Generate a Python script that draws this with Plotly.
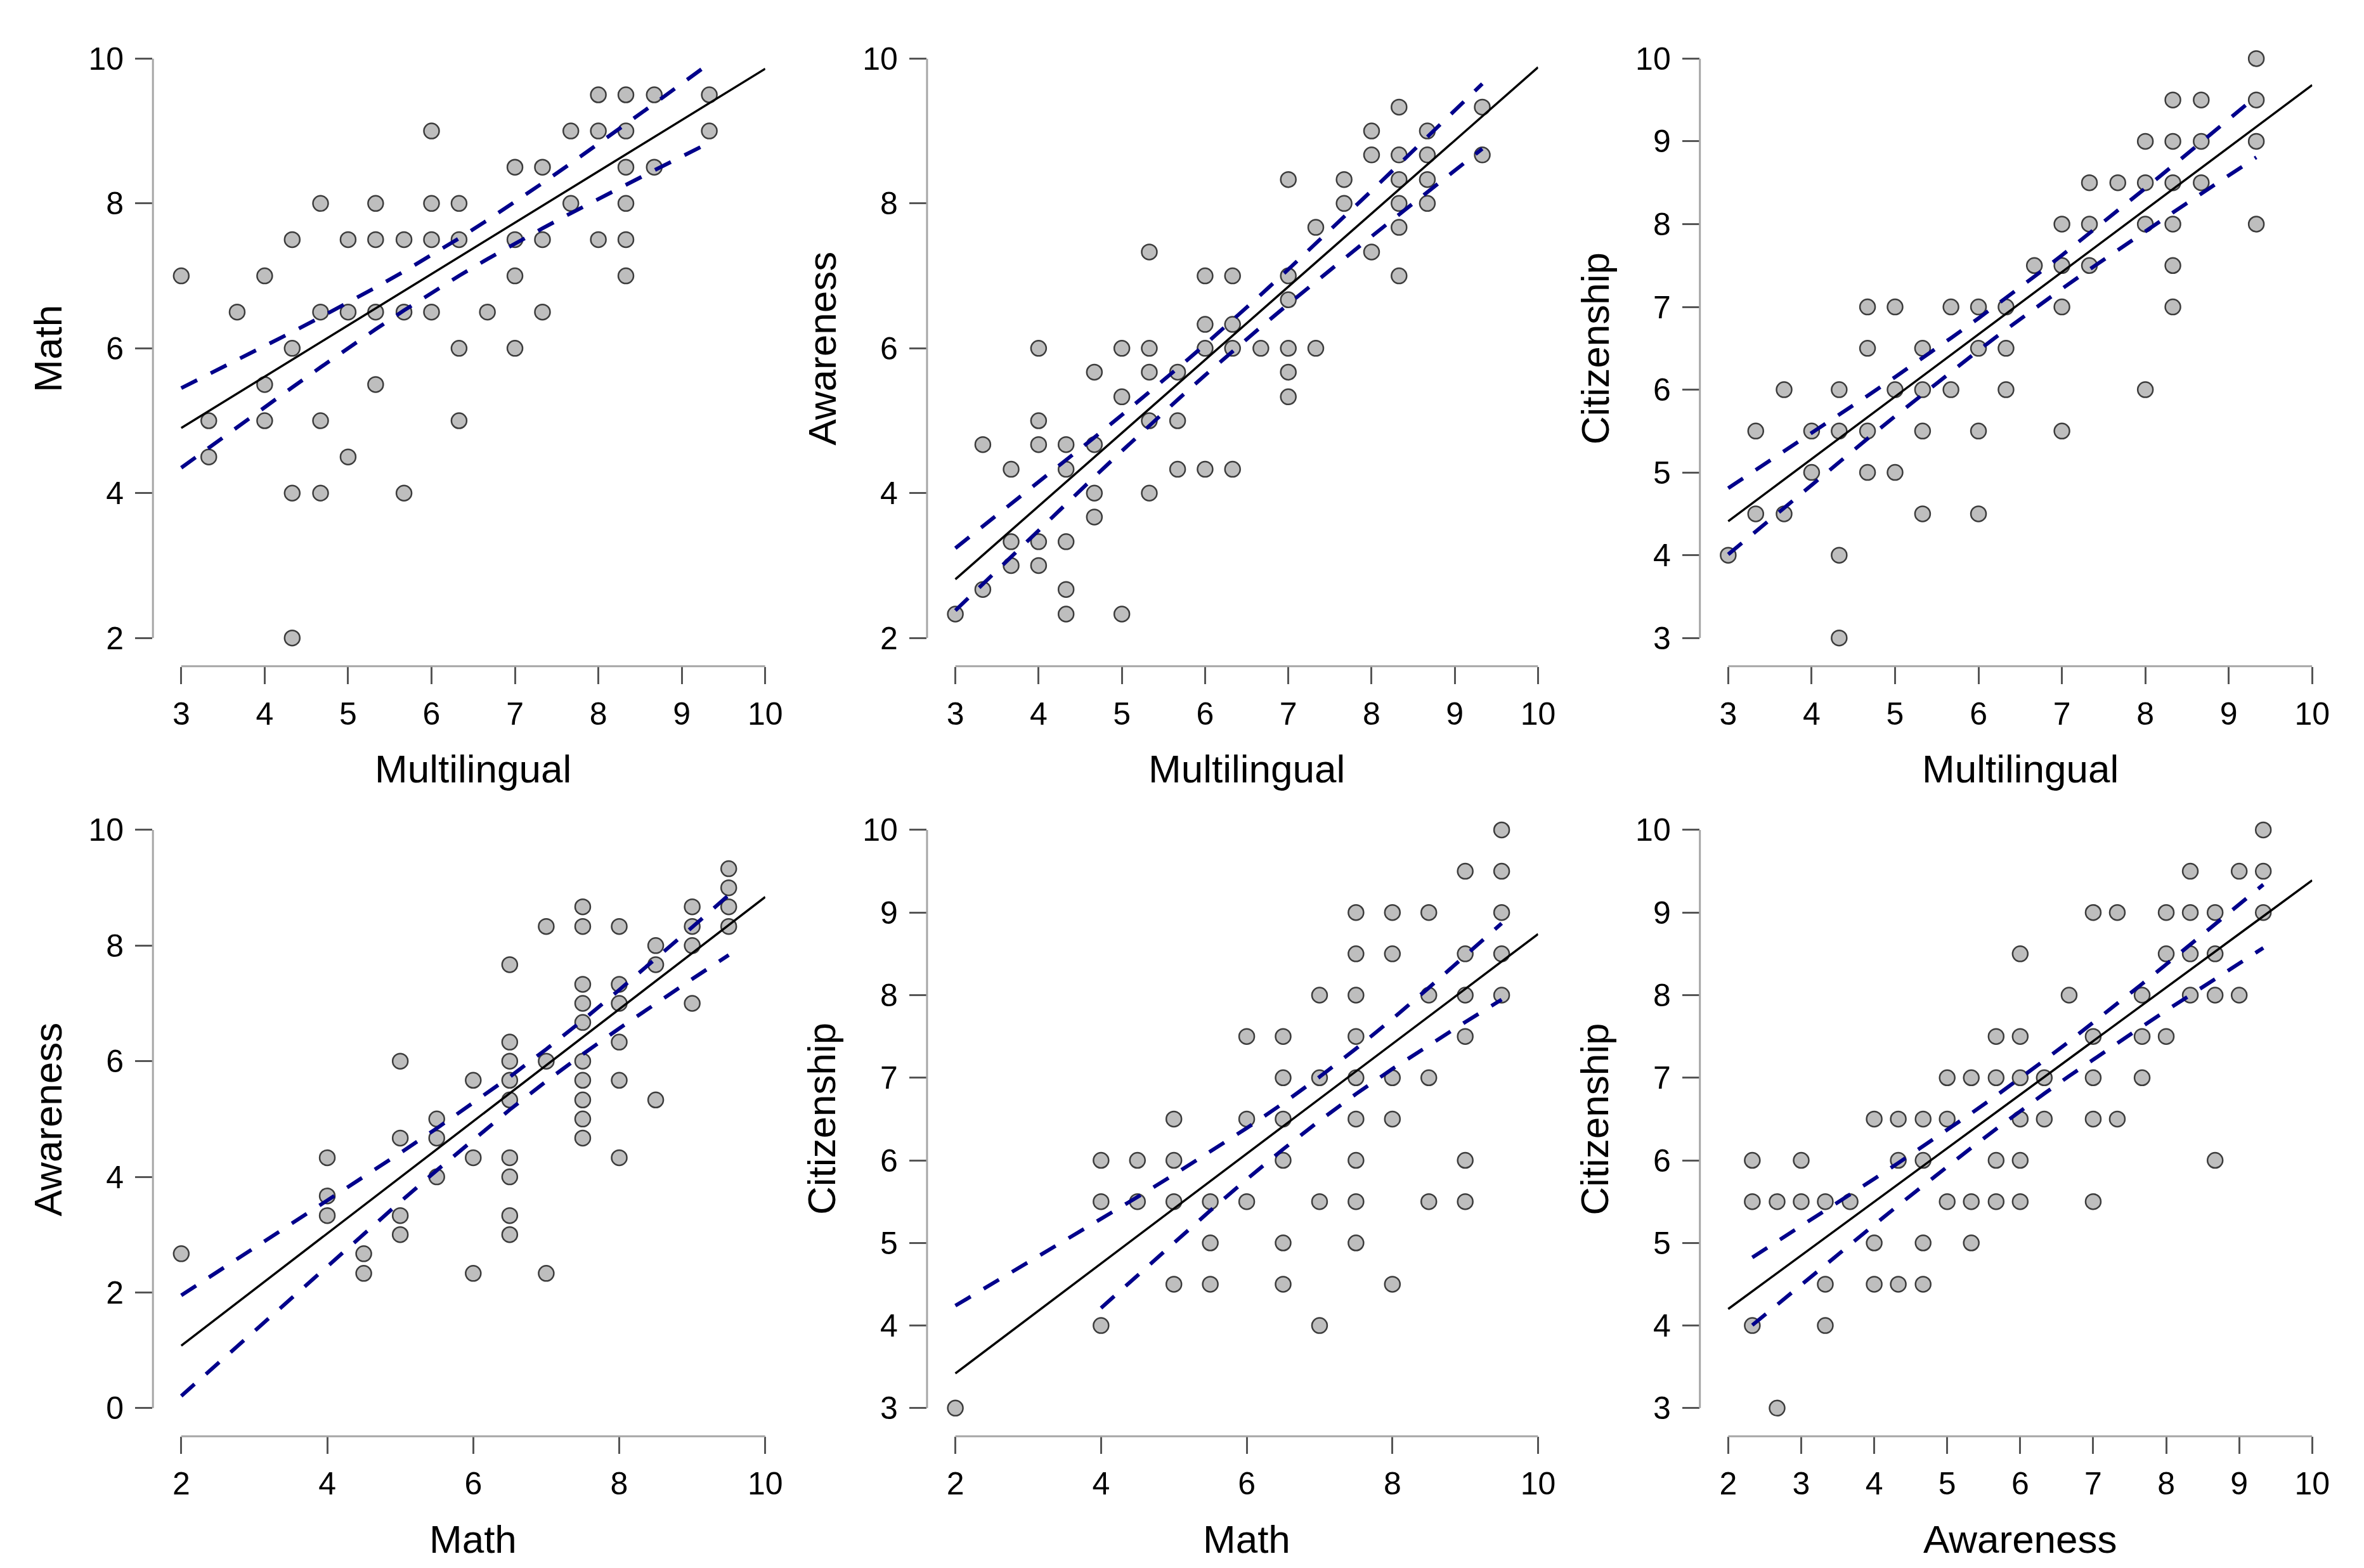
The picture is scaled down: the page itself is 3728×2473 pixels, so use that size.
import numpy as np
import plotly.graph_objects as go

FONT = "Liberation Sans, Arial, sans-serif"

# Multilingual vs Math (rows grouped by y value)
ml_math_x = [8, 8.33, 8.67, 9.33,
             6, 7.67, 8, 8.33, 9.33,
             7, 7.33, 8.33, 8.67,
             4.67, 5.33, 6, 6.33, 7.67, 8.33,
             4.33, 5, 5.33, 5.67, 6, 6.33, 7, 7.33, 8, 8.33,
             3, 4, 7, 8.33,
             3.67, 4.67, 5, 5.33, 5.67, 6, 6.67, 7.33,
             4.33, 6.33, 7,
             4, 5.33,
             3.33, 4, 4.67, 6.33,
             3.33, 5,
             4.33, 4.67, 5.67,
             4.33]
ml_math_y = [9.5, 9.5, 9.5, 9.5,
             9, 9, 9, 9, 9,
             8.5, 8.5, 8.5, 8.5,
             8, 8, 8, 8, 8, 8,
             7.5, 7.5, 7.5, 7.5, 7.5, 7.5, 7.5, 7.5, 7.5, 7.5,
             7, 7, 7, 7,
             6.5, 6.5, 6.5, 6.5, 6.5, 6.5, 6.5, 6.5,
             6, 6, 6,
             5.5, 5.5,
             5, 5, 5, 5,
             4.5, 4.5,
             4, 4, 4,
             2]

# Multilingual vs Awareness
ml_aw_x = [8.33, 9.33,
           8, 8.67,
           8, 8.33, 8.67, 9.33,
           7, 7.67, 8.33, 8.67,
           7.67, 8.33, 8.67,
           7.33, 8.33,
           5.33, 8,
           6, 6.33, 7, 8.33,
           7,
           6, 6.33,
           4, 5, 5.33, 6, 6.33, 6.67, 7, 7.33,
           4.67, 5.33, 5.67, 7,
           5, 7,
           4, 5.33, 5.67,
           3.33, 4, 4.33, 4.67,
           3.67, 4.33, 5.67, 6, 6.33,
           4.67, 5.33,
           4.67,
           3.67, 4, 4.33,
           3.67, 4,
           3.33, 4.33,
           3, 4.33, 5]
ml_aw_y = [9.33, 9.33,
           9, 9,
           8.67, 8.67, 8.67, 8.67,
           8.33, 8.33, 8.33, 8.33,
           8, 8, 8,
           7.67, 7.67,
           7.33, 7.33,
           7, 7, 7, 7,
           6.67,
           6.33, 6.33,
           6, 6, 6, 6, 6, 6, 6, 6,
           5.67, 5.67, 5.67, 5.67,
           5.33, 5.33,
           5, 5, 5,
           4.67, 4.67, 4.67, 4.67,
           4.33, 4.33, 4.33, 4.33, 4.33,
           4, 4,
           3.67,
           3.33, 3.33, 3.33,
           3, 3,
           2.67, 2.67,
           2.33, 2.33, 2.33]

# Multilingual vs Citizenship
ml_cit_x = [9.33,
            8.33, 8.67, 9.33,
            8, 8.33, 8.67, 9.33,
            7.33, 7.67, 8, 8.33, 8.67,
            7, 7.33, 8, 8.33, 9.33,
            6.67, 7, 7.33, 8.33,
            4.67, 5, 5.67, 6, 6.33, 7, 8.33,
            4.67, 5.33, 6, 6.33,
            3.67, 4.33, 5, 5.33, 5.67, 6.33, 8,
            3.33, 4, 4.33, 4.67, 5.33, 6, 7,
            4, 4.67, 5,
            3.33, 3.67, 5.33, 6,
            3, 4.33,
            4.33]
ml_cit_y = [10,
            9.5, 9.5, 9.5,
            9, 9, 9, 9,
            8.5, 8.5, 8.5, 8.5, 8.5,
            8, 8, 8, 8, 8,
            7.5, 7.5, 7.5, 7.5,
            7, 7, 7, 7, 7, 7, 7,
            6.5, 6.5, 6.5, 6.5,
            6, 6, 6, 6, 6, 6, 6,
            5.5, 5.5, 5.5, 5.5, 5.5, 5.5, 5.5,
            5, 5, 5,
            4.5, 4.5, 4.5, 4.5,
            4, 4,
            3]

# Math vs Awareness
math_aw_x = [9.5,
             9.5,
             7.5, 9, 9.5,
             7, 7.5, 8, 9, 9.5,
             8.5, 9,
             6.5, 8.5,
             7.5, 8,
             7.5, 8, 9,
             7.5,
             6.5, 8,
             5, 6.5, 7, 7.5,
             6, 6.5, 7.5, 8,
             6.5, 7.5, 8.5,
             5.5, 7.5,
             5, 5.5, 7.5,
             4, 6, 6.5, 8,
             5.5, 6.5,
             4,
             4, 5, 6.5,
             5, 6.5,
             2, 4.5,
             4.5, 6, 7]
math_aw_y = [9.33,
             9,
             8.67, 8.67, 8.67,
             8.33, 8.33, 8.33, 8.33, 8.33,
             8, 8,
             7.67, 7.67,
             7.33, 7.33,
             7, 7, 7,
             6.67,
             6.33, 6.33,
             6, 6, 6, 6,
             5.67, 5.67, 5.67, 5.67,
             5.33, 5.33, 5.33,
             5, 5,
             4.67, 4.67, 4.67,
             4.33, 4.33, 4.33, 4.33,
             4, 4,
             3.67,
             3.33, 3.33, 3.33,
             3, 3,
             2.67, 2.67,
             2.33, 2.33, 2.33]

# Math vs Citizenship
math_cit_x = [9.5,
              9, 9.5,
              7.5, 8, 8.5, 9.5,
              7.5, 8, 9, 9.5,
              7, 7.5, 8.5, 9, 9.5,
              6, 6.5, 7.5, 9,
              6.5, 7, 7.5, 8, 8.5,
              5, 6, 6.5, 7.5, 8,
              4, 4.5, 5, 6.5, 7.5, 9,
              4, 4.5, 5, 5.5, 6, 7, 7.5, 8.5, 9,
              5.5, 6.5, 7.5,
              5, 5.5, 6.5, 8,
              4, 7,
              2]
math_cit_y = [10,
              9.5, 9.5,
              9, 9, 9, 9,
              8.5, 8.5, 8.5, 8.5,
              8, 8, 8, 8, 8,
              7.5, 7.5, 7.5, 7.5,
              7, 7, 7, 7, 7,
              6.5, 6.5, 6.5, 6.5, 6.5,
              6, 6, 6, 6, 6, 6,
              5.5, 5.5, 5.5, 5.5, 5.5, 5.5, 5.5, 5.5, 5.5,
              5, 5, 5,
              4.5, 4.5, 4.5, 4.5,
              4, 4,
              3]

# Awareness vs Citizenship
aw_cit_x = [9.33,
            8.33, 9, 9.33,
            7, 7.33, 8, 8.33, 8.67, 9.33,
            6, 8, 8.33, 8.67,
            6.67, 7.67, 8.33, 8.67, 9,
            5.67, 6, 7, 7.67, 8,
            5, 5.33, 5.67, 6, 6.33, 7, 7.67,
            4, 4.33, 4.67, 5, 6, 6.33, 7, 7.33,
            2.33, 3, 4.33, 4.67, 5.67, 6, 8.67,
            2.33, 2.67, 3, 3.33, 3.67, 5, 5.33, 5.67, 6, 7,
            4, 4.67, 5.33,
            3.33, 4, 4.33, 4.67,
            2.33, 3.33,
            2.67]
aw_cit_y = [10,
            9.5, 9.5, 9.5,
            9, 9, 9, 9, 9, 9,
            8.5, 8.5, 8.5, 8.5,
            8, 8, 8, 8, 8,
            7.5, 7.5, 7.5, 7.5, 7.5,
            7, 7, 7, 7, 7, 7, 7,
            6.5, 6.5, 6.5, 6.5, 6.5, 6.5, 6.5, 6.5,
            6, 6, 6, 6, 6, 6, 6,
            5.5, 5.5, 5.5, 5.5, 5.5, 5.5, 5.5, 5.5, 5.5, 5.5,
            5, 5, 5,
            4.5, 4.5, 4.5, 4.5,
            4, 4,
            3]

# regression summary (the full sample has hidden duplicates)
fit_left = [4.90, 2.81, 4.41, 1.08, 3.42, 4.20]    # fitted value at the left axis end
fit_right = [9.86, 9.88, 9.68, 8.84, 8.74, 9.39]   # fitted value at the right axis end
ci_left = [0.55, 0.43, 0.40, 0.87, 0.82, 0.41]     # CI half-width at the smallest x

panels = [
    (ml_math_x, ml_math_y, "Multilingual", "Math", list(range(3, 11)), [2, 4, 6, 8, 10]),
    (ml_aw_x, ml_aw_y, "Multilingual", "Awareness", list(range(3, 11)), [2, 4, 6, 8, 10]),
    (ml_cit_x, ml_cit_y, "Multilingual", "Citizenship", list(range(3, 11)), list(range(3, 11))),
    (math_aw_x, math_aw_y, "Math", "Awareness", [2, 4, 6, 8, 10], [0, 2, 4, 6, 8, 10]),
    (math_cit_x, math_cit_y, "Math", "Citizenship", [2, 4, 6, 8, 10], list(range(3, 11))),
    (aw_cit_x, aw_cit_y, "Awareness", "Citizenship", list(range(2, 11)), list(range(3, 11))),
]

# page geometry in pixels
W, H = 3728, 2473
col_x = [(288, 1216), (1518, 2444), (2746, 3674)]   # first / last x tick
row_y = [(66, 990), (1296, 2218)]                   # top / bottom y tick
GAP = 45          # offset of the axis lines from the data region

fig = go.Figure()
annotations = []
shapes = []

for i, (x, y, xlab, ylab, xt, yt) in enumerate(panels):
    k = i + 1
    xa, ya = ("x", "y") if k == 1 else (f"x{k}", f"y{k}")
    (px0, px1) = col_x[i % 3]
    (py0, py1) = row_y[i // 3]
    xmin, xmax = xt[0], xt[-1]
    ymin, ymax = yt[0], yt[-1]
    ux = (px1 - px0) / (xmax - xmin)
    uy = (py1 - py0) / (ymax - ymin)

    xr = [xmin - GAP / ux, xmax + 0.001]
    yr = [ymin - GAP / uy, ymax + 0.001]
    dom_x = [(px0 - GAP) / W, px1 / W]
    dom_y = [1 - (py1 + GAP) / H, 1 - py0 / H]

    # straight fit and its confidence band (hyperbolic in x)
    xv = np.array(x, dtype=float)
    slope = (fit_right[i] - fit_left[i]) / (xmax - xmin)
    icpt = fit_left[i] - slope * xmin
    xs = np.unique(xv)
    shape = np.sqrt(1 + (xs - xv.mean()) ** 2 / xv.var())
    half = ci_left[i] * shape / shape[0]
    fit = icpt + slope * xs
    upper = fit + half
    lower = fit - half
    upper = np.where((upper < ymin) | (upper > ymax), np.nan, upper)
    lower = np.where((lower < ymin) | (lower > ymax), np.nan, lower)

    fig.add_trace(go.Scatter(
        x=x, y=y, mode="markers", xaxis=xa, yaxis=ya, cliponaxis=False,
        marker=dict(size=24, color="#bebebe", line=dict(color="#3c3c3c", width=2.5))))
    fig.add_trace(go.Scatter(
        x=[xmin, xmax], y=[fit_left[i], fit_right[i]], mode="lines",
        xaxis=xa, yaxis=ya, line=dict(color="black", width=3.5)))
    for band in (upper, lower):
        fig.add_trace(go.Scatter(
            x=xs, y=band, mode="lines", xaxis=xa, yaxis=ya, connectgaps=False,
            line=dict(color="darkblue", width=6, dash="28px,24px")))

    axis_common = dict(showgrid=False, zeroline=False, showline=False,
                       ticks="outside", ticklen=27, tickwidth=3, tickcolor="#555555",
                       tickfont=dict(family=FONT, size=50, color="black"))
    fig.layout[xa.replace("x", "xaxis")] = dict(
        axis_common, domain=dom_x, range=xr, tickvals=xt, anchor=ya,
        ticklabelstandoff=4)
    fig.layout[ya.replace("y", "yaxis")] = dict(
        axis_common, domain=dom_y, range=yr, tickvals=yt, anchor=xa,
        ticklabelstandoff=8)

    # axis lines spanning only the tick range
    shapes.append(dict(type="line", xref=xa, yref=f"{ya} domain",
                       x0=xmin, x1=xmax, y0=0, y1=0,
                       line=dict(color="#a6a6a6", width=3)))
    shapes.append(dict(type="line", xref=f"{xa} domain", yref=ya,
                       x0=0, x1=0, y0=ymin, y1=ymax,
                       line=dict(color="#a6a6a6", width=3)))

    annotations.append(dict(text=xlab, xref="paper", yref="paper",
                            x=(px0 + px1) / 2 / W, y=1 - (py1 + 209) / H,
                            xanchor="center", yanchor="middle", showarrow=False,
                            font=dict(family=FONT, size=62, color="black")))
    annotations.append(dict(text=ylab, xref="paper", yref="paper",
                            x=(px0 - 212) / W, y=1 - (py0 + py1) / 2 / H,
                            xanchor="center", yanchor="middle", showarrow=False,
                            textangle=-90,
                            font=dict(family=FONT, size=62, color="black")))

fig.update_layout(width=W, height=H, autosize=False,
                  margin=dict(l=0, r=0, t=0, b=0),
                  paper_bgcolor="white", plot_bgcolor="white",
                  showlegend=False, shapes=shapes, annotations=annotations)

# pin the graph to the top-left corner of the page
pin = ("document.body.style.margin='0px';"
       "document.body.style.overflow='hidden';"
       "var gd=document.getElementById('{plot_id}');"
       "gd.style.position='fixed';gd.style.left='0px';gd.style.top='0px';")
fig.write_html("out.html", config={"displayModeBar": False}, post_script=pin)
